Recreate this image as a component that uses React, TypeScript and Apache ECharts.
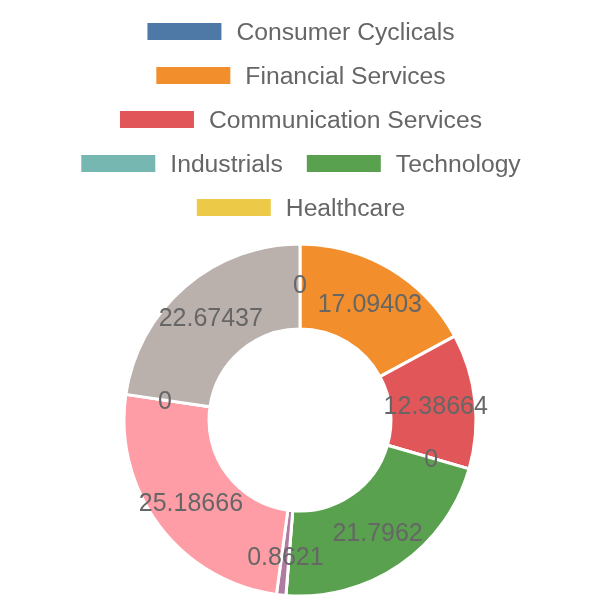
import React, { useEffect, useRef } from "react";
import * as echarts from "echarts";

const categories = [
  "Consumer Cyclicals",
  "Financial Services",
  "Communication Services",
  "Industrials",
  "Technology",
  "Healthcare",
  "Consumer Defensive",
  "Energy",
  "Utilities",
  "Basic Materials",
];
const values = [0, 17.09403, 12.38664, 0, 21.7962, 0, 0.8621, 25.18666, 0, 22.67437];
const legendRows = [
  ["Consumer Cyclicals"],
  ["Financial Services"],
  ["Communication Services"],
  ["Industrials", "Technology"],
  ["Healthcare"],
];
const colors = [
  "#4e79a7", "#f28e2b", "#e15759", "#76b7b2", "#59a14f",
  "#edc948", "#b07aa1", "#ff9da7", "#9c755f", "#bab0ac",
];

export default function App() {
  const ref = useRef<HTMLDivElement>(null);
  useEffect(() => {
    if (!ref.current) return;
    const chart = echarts.init(ref.current, undefined, { renderer: "svg" });
    chart.setOption({
      animation: false,
      color: colors,
      textStyle: { fontFamily: "Liberation Sans, Arial, sans-serif" },
      legend: legendRows.map((row, i) => ({
        data: row,
        top: 32 + i * 44 - 13,
        left: "center",
        icon: "rect",
        itemWidth: 76,
        itemHeight: 19,
        itemGap: 22,
        padding: 0,
        textStyle: { fontSize: 24.7, color: "#666", padding: [0, 0, 0, 9] },
      })),
      series: [
        {
          type: "pie",
          center: [300, 420],
          radius: [91, 176],
          clockwise: true,
          startAngle: 90,
          itemStyle: { borderColor: "#fff", borderWidth: 3 },
          label: {
            show: true,
            position: "inside",
            fontSize: 25,
            color: "#666",
            formatter: "{c}",
          },
          labelLine: { show: false },
          emphasis: { disabled: true },
          data: categories.map((name, i) => ({ name, value: values[i] })),
        },
      ],
    });
    return () => chart.dispose();
  }, []);
  return (
    <div
      ref={ref}
      style={{ position: "fixed", left: 0, top: 0, width: 600, height: 600 }}
    />
  );
}
